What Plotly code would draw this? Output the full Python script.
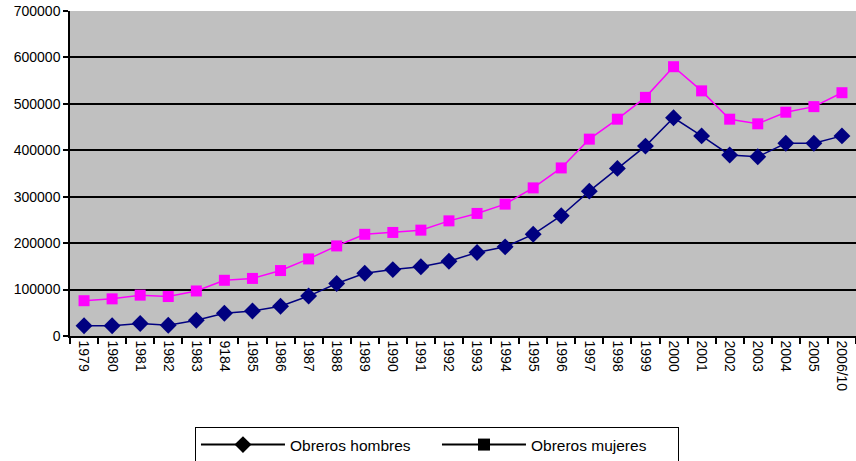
import plotly.graph_objects as go

years = ["1979", "1980", "1981", "1982", "1983", "9184", "1985", "1986", "1987", "1988",
         "1989", "1990", "1991", "1992", "1993", "1994", "1995", "1996", "1997", "1998",
         "1999", "2000", "2001", "2002", "2003", "2004", "2005", "2006/10"]

hombres = [22000, 22000, 27000, 23000, 34000, 49000, 54000, 64000, 86000, 113000,
           135000, 143000, 149000, 161000, 180000, 192000, 219000, 259000, 312000, 361000,
           409000, 470000, 431000, 390000, 386000, 415000, 415000, 431000]

mujeres = [76000, 80000, 88000, 85000, 97000, 120000, 124000, 141000, 166000, 194000,
           219000, 223000, 228000, 248000, 264000, 284000, 319000, 362000, 424000, 467000,
           514000, 580000, 528000, 467000, 457000, 482000, 494000, 524000]

y_ticks = [0, 100000, 200000, 300000, 400000, 500000, 600000, 700000]

FONT = "Liberation Sans, Arial, sans-serif"

fig = go.Figure()

fig.add_trace(go.Scatter(
    x=years, y=hombres, mode="lines+markers", showlegend=False,
    line=dict(color="#000080", width=1.5),
    marker=dict(symbol="diamond", size=13, color="#000080"),
))
fig.add_trace(go.Scatter(
    x=years, y=mujeres, mode="lines+markers", showlegend=False,
    line=dict(color="#FF00FF", width=1.5),
    marker=dict(symbol="square", size=11, color="#FF00FF"),
))
# legend entries (black, as in the reference)
fig.add_trace(go.Scatter(
    x=[None], y=[None], mode="lines+markers", name="Obreros hombres",
    line=dict(color="black", width=2),
    marker=dict(symbol="diamond", size=13, color="black"),
))
fig.add_trace(go.Scatter(
    x=[None], y=[None], mode="lines+markers", name="Obreros mujeres",
    line=dict(color="black", width=2),
    marker=dict(symbol="square", size=12, color="black"),
))

fig.update_layout(
    width=856, height=461,
    margin=dict(l=70, r=0, t=11, b=125, autoexpand=False),
    paper_bgcolor="white",
    plot_bgcolor="#C0C0C0",
    font=dict(family=FONT, size=14, color="black"),
    legend=dict(
        orientation="h",
        x=0.159, y=-0.28, xanchor="left", yanchor="top",
        bgcolor="white", bordercolor="black", borderwidth=1,
        font=dict(family=FONT, size=15.5, color="black"),
        itemwidth=84,
        entrywidth=142, entrywidthmode="pixels",
        traceorder="normal",
    ),
)

fig.update_xaxes(
    type="category",
    categoryorder="array", categoryarray=years,
    range=[-0.5, len(years) - 0.5],
    automargin=False,
    showgrid=False,
    showline=True, linecolor="black", linewidth=1.5,
    ticks="outside", tickson="boundaries", ticklen=6, tickcolor="black", tickwidth=1.5,
    tickangle=90,
    tickfont=dict(family=FONT, size=14, color="black"),
)

fig.update_yaxes(
    range=[0, 700000],
    automargin=False,
    tickvals=y_ticks, tickformat="d",
    showgrid=True, gridcolor="black", gridwidth=1.5,
    zeroline=False,
    showline=True, linecolor="black", linewidth=1.5,
    ticks="outside", ticklen=5, tickcolor="black", tickwidth=1.5,
    tickfont=dict(family=FONT, size=14, color="black"),
)

fig.write_html(
    "out.html",
    config={"displayModeBar": False},
    post_script="document.body.style.margin='0';document.body.style.overflow='hidden';",
)
